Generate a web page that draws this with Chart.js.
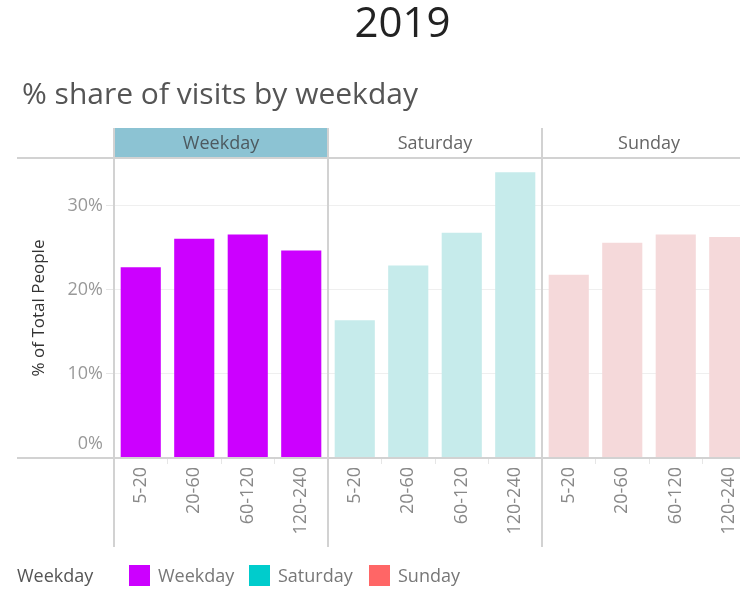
<!DOCTYPE html>
<html>
<head>
<meta charset="utf-8">
<script src="https://cdn.jsdelivr.net/npm/chart.js@4"></script>
<style>
  body { margin: 0; width: 740px; height: 589px; overflow: hidden; background: #fff; font-family: "Open Sans", sans-serif; }
  #year { position: absolute; left: 0; width: 805px; top: -8px; text-align: center; font-size: 42px; color: #222; }
  #subtitle { position: absolute; left: 22px; top: 72px; font-size: 30px; color: #555; white-space: nowrap; }
  #wrap { position: absolute; left: 0; top: 0; }
  .legend { position: absolute; top: 564px; height: 22px; line-height: 22px; font-size: 18px; color: #777; white-space: nowrap; }
  .sw { position: absolute; top: 565px; width: 21px; height: 21px; }
</style>
</head>
<body>
<div id="wrap"><canvas id="myChart" width="760" height="589"></canvas></div>
<div id="year">2019</div>
<div id="subtitle">% share of visits by weekday</div>
<div class="legend" style="left:17px;color:#555">Weekday</div>
<div class="sw" style="left:129px;background:#cc00ff"></div>
<div class="legend" style="left:158px">Weekday</div>
<div class="sw" style="left:249px;background:#00cccc"></div>
<div class="legend" style="left:278px">Saturday</div>
<div class="sw" style="left:369px;background:#ff6666"></div>
<div class="legend" style="left:398px">Sunday</div>
<script>
// panels and duration buckets
const panels = ["Weekday", "Saturday", "Sunday"];
const durations = ["5-20", "20-60", "60-120", "120-240"];

// % of total people per duration bucket
const weekdayVals = [22.7, 26.1, 26.6, 24.7];
const saturdayVals = [16.4, 22.9, 26.8, 34.0];
const sundayVals = [21.8, 25.6, 26.6, 26.3];

const barColors = ["#cc00ff", "#c6ebeb", "#f5d9da"];
const headerFill = "#8cc3d3";

const seriesVals = [weekdayVals, saturdayVals, sundayVals];

// one label per bar, panels side by side
let labels = [];
panels.forEach(() => durations.forEach(d => labels.push(d)));

const datasets = panels.map((p, i) => {
    let data = [];
    panels.forEach((q, j) => {
        durations.forEach((d, k) => data.push(i === j ? seriesVals[i][k] : null));
    });
    return {
        label: p,
        data: data,
        backgroundColor: barColors[i],
        barPercentage: 0.75,
        categoryPercentage: 1.0,
    };
});

// headers, panel separators and axis lines like the trellis view
const panelPlugin = {
    id: "panels",
    afterDraw(chart) {
        const { ctx, chartArea } = chart;
        const panelW = (chartArea.right - chartArea.left) / panels.length;
        const headTop = chartArea.top - 30;
        ctx.save();
        panels.forEach((p, i) => {
            const x0 = chartArea.left + i * panelW;
            if (i === 0) {
                ctx.fillStyle = headerFill;
                ctx.fillRect(x0, headTop, panelW, 30);
            }
            ctx.fillStyle = i === 0 ? "#4d5a60" : "#666";
            ctx.font = "18px 'Open Sans'";
            ctx.textAlign = "center";
            ctx.textBaseline = "middle";
            ctx.fillText(p, x0 + panelW / 2, headTop + 16);
        });

        // bottom tick label sits above the baseline, as in the original
        const yScale = chart.scales.y;
        ctx.fillStyle = "#999";
        ctx.textAlign = "right";
        ctx.fillText("0%", chartArea.left - 11, yScale.getPixelForValue(0) - 14);

        ctx.strokeStyle = "#d2d2d2";
        ctx.lineWidth = 2;
        ctx.beginPath();
        ctx.moveTo(17, chartArea.top);
        ctx.lineTo(chart.width, chartArea.top);
        ctx.moveTo(17, chartArea.bottom);
        ctx.lineTo(chart.width, chartArea.bottom);
        for (let i = 0; i <= panels.length; i++) {
            const x = chartArea.left + i * panelW;
            ctx.moveTo(x, headTop);
            ctx.lineTo(x, 547);
        }
        ctx.stroke();
        ctx.restore();
    }
};

const myChart = new Chart("myChart", {
    type: "bar",
    data: {
        labels: labels,
        datasets: datasets,
    },
    options: {
        responsive: false,
        animation: false,
        layout: { padding: { top: 158, right: 4, left: 0, bottom: 0 } },
        plugins: {
            legend: { display: false },
            tooltip: { enabled: false },
        },
        scales: {
            x: {
                stacked: true,
                afterFit: (scale) => { scale.height = 131; },
                border: { display: false },
                grid: {
                    color: "transparent",
                    tickLength: 6,
                    tickColor: (c) => (c.index % 4 === 0 ? "transparent" : "#e6e6e6"),
                },
                ticks: {
                    minRotation: 90,
                    maxRotation: 90,
                    autoSkip: false,
                    padding: 3,
                    color: "#888",
                    font: { family: "'Open Sans'", size: 18 },
                },
            },
            y: {
                stacked: true,
                min: 0,
                max: 35.7,
                afterFit: (scale) => { scale.width = 114; },
                afterBuildTicks: (scale) => {
                    scale.ticks = scale.ticks.filter(t => t.value % 10 === 0);
                },
                border: { display: false },
                grid: {
                    color: "#efefef",
                    tickLength: 8,
                    tickColor: "#e6e6e6",
                },
                ticks: {
                    stepSize: 10,
                    padding: 3,
                    color: "#999",
                    font: { family: "'Open Sans'", size: 18 },
                    callback: (v) => (v === 0 ? "" : v + "%"),
                },
                title: {
                    display: true,
                    text: "% of Total People",
                    color: "#333",
                    padding: { top: 29, bottom: 0 },
                    font: { family: "'Open Sans'", size: 17 },
                },
            },
        },
    },
    plugins: [panelPlugin],
});
</script>
</body>
</html>
